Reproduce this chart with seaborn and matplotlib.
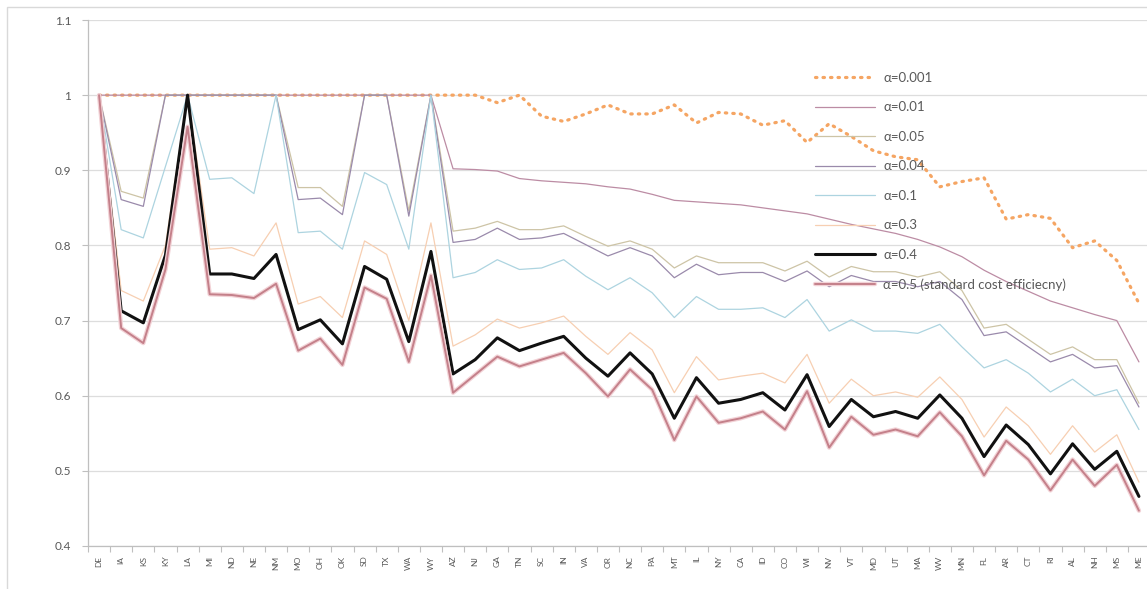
import numpy as np
import pandas as pd
import matplotlib
matplotlib.use("Agg")
import matplotlib.pyplot as plt
import matplotlib.patheffects as pe
from matplotlib.patches import Rectangle
import seaborn as sns

states = ["DE", "IA", "KS", "KY", "LA", "MI", "ND", "NE", "NM", "MO", "OH", "OK",
          "SD", "TX", "WA", "WY", "AZ", "NJ", "GA", "TN", "SC", "IN", "VA", "OR",
          "NC", "PA", "MT", "IL", "NY", "CA", "ID", "CO", "WI", "NV", "VT", "MD",
          "UT", "MA", "WV", "MN", "FL", "AR", "CT", "RI", "AL", "NH", "MS", "ME"]

a_0001 = [1.0, 1.0, 1.0, 1.0, 1.0, 1.0, 1.0, 1.0, 1.0, 1.0, 1.0, 1.0,
          1.0, 1.0, 1.0, 1.0, 1.0, 1.0, 0.990, 1.0, 0.972, 0.965, 0.975, 0.987,
          0.975, 0.975, 0.987, 0.963, 0.977, 0.975, 0.960, 0.966, 0.937, 0.962, 0.945, 0.926,
          0.918, 0.914, 0.878, 0.885, 0.890, 0.835, 0.841, 0.836, 0.797, 0.806, 0.780, 0.723]

a_001 = [1.0, 1.0, 1.0, 1.0, 1.0, 1.0, 1.0, 1.0, 1.0, 1.0, 1.0, 1.0,
         1.0, 1.0, 1.0, 1.0, 0.902, 0.901, 0.899, 0.889, 0.886, 0.884, 0.882, 0.878,
         0.875, 0.868, 0.860, 0.858, 0.856, 0.854, 0.850, 0.846, 0.842, 0.835, 0.828, 0.822,
         0.816, 0.808, 0.798, 0.785, 0.767, 0.752, 0.739, 0.726, 0.717, 0.708, 0.700, 0.645]

a_005 = [1.0, 0.872, 0.863, 1.0, 1.0, 1.0, 1.0, 1.0, 1.0, 0.877, 0.877, 0.852,
         1.0, 1.0, 0.846, 1.0, 0.819, 0.823, 0.832, 0.821, 0.821, 0.826, 0.812, 0.799,
         0.806, 0.795, 0.770, 0.786, 0.777, 0.777, 0.777, 0.766, 0.779, 0.758, 0.772, 0.765,
         0.765, 0.758, 0.765, 0.740, 0.690, 0.695, 0.675, 0.655, 0.665, 0.648, 0.648, 0.590]

a_004 = [1.0, 0.861, 0.852, 1.0, 1.0, 1.0, 1.0, 1.0, 1.0, 0.861, 0.863, 0.841,
         1.0, 1.0, 0.839, 1.0, 0.804, 0.808, 0.823, 0.808, 0.810, 0.816, 0.801, 0.786,
         0.797, 0.786, 0.757, 0.775, 0.761, 0.764, 0.764, 0.752, 0.766, 0.745, 0.760, 0.752,
         0.752, 0.745, 0.752, 0.728, 0.680, 0.685, 0.665, 0.645, 0.655, 0.637, 0.640, 0.585]

a_01 = [1.0, 0.821, 0.810, 0.905, 1.0, 0.888, 0.890, 0.869, 1.0, 0.817, 0.819, 0.795,
        0.897, 0.881, 0.795, 1.0, 0.757, 0.764, 0.781, 0.768, 0.770, 0.781, 0.759, 0.741,
        0.757, 0.737, 0.704, 0.732, 0.715, 0.715, 0.717, 0.704, 0.728, 0.686, 0.701, 0.686,
        0.686, 0.683, 0.695, 0.665, 0.637, 0.648, 0.630, 0.605, 0.622, 0.600, 0.608, 0.555]

a_03 = [1.0, 0.740, 0.726, 0.800, 1.0, 0.795, 0.797, 0.786, 0.830, 0.722, 0.732, 0.704,
        0.806, 0.788, 0.700, 0.830, 0.666, 0.681, 0.702, 0.690, 0.697, 0.706, 0.679, 0.655,
        0.684, 0.661, 0.604, 0.652, 0.621, 0.626, 0.630, 0.617, 0.655, 0.590, 0.622, 0.600,
        0.605, 0.598, 0.625, 0.595, 0.545, 0.585, 0.560, 0.522, 0.560, 0.525, 0.548, 0.485]

a_04 = [1.0, 0.713, 0.697, 0.787, 1.0, 0.762, 0.762, 0.756, 0.788, 0.688, 0.701, 0.669,
        0.772, 0.755, 0.672, 0.792, 0.629, 0.648, 0.677, 0.660, 0.670, 0.679, 0.650, 0.626,
        0.657, 0.629, 0.570, 0.624, 0.590, 0.595, 0.604, 0.581, 0.628, 0.559, 0.595, 0.572,
        0.579, 0.570, 0.601, 0.570, 0.519, 0.561, 0.535, 0.496, 0.536, 0.502, 0.526, 0.466]

a_05 = [1.0, 0.690, 0.670, 0.768, 0.958, 0.735, 0.734, 0.730, 0.749, 0.660, 0.676, 0.641,
        0.744, 0.729, 0.645, 0.760, 0.604, 0.628, 0.652, 0.639, 0.648, 0.657, 0.630, 0.599,
        0.635, 0.608, 0.541, 0.599, 0.564, 0.570, 0.579, 0.555, 0.606, 0.531, 0.572, 0.548,
        0.555, 0.546, 0.578, 0.546, 0.494, 0.540, 0.515, 0.474, 0.515, 0.480, 0.508, 0.447]

labels = ["α=0.001", "α=0.01", "α=0.05", "α=0.04", "α=0.1", "α=0.3", "α=0.4",
          "α=0.5 (standard cost efficiecny)"]
series = [a_0001, a_001, a_005, a_004, a_01, a_03, a_04, a_05]

styles = [
    dict(color="#F5A563", lw=2.3, linestyle=(0, (0.45, 1.9)), solid_capstyle="round",
         dash_capstyle="round"),
    dict(color="#BC8CA4", lw=0.9),
    dict(color="#CDC4A6", lw=0.9),
    dict(color="#9A8AAB", lw=0.9),
    dict(color="#ADD4E0", lw=0.9),
    dict(color="#F7CFB2", lw=0.9),
    dict(color="#111111", lw=2.2),
    dict(color="#C4808A", lw=1.4,
         path_effects=[pe.Stroke(linewidth=3.2, foreground="#F2D2D6"), pe.Normal()]),
]

x = np.arange(len(states))
frames = []
for lab, vals in zip(labels, series):
    frames.append(pd.DataFrame({"pos": x, "state": states, "value": vals, "series": lab}))
df = pd.concat(frames, ignore_index=True)

sns.set_theme(style="white")
plt.rcParams["font.family"] = ["Lato", "DejaVu Sans"]

W, H = 1147, 589
fig = plt.figure(figsize=(W / 100, H / 100), dpi=100)
# category step ~22.2 px, first state at x=98, last near the right edge
ax = fig.add_axes([88 / W, 43 / H, (1150 - 88) / W, 526 / H])

for lab, st in zip(labels, styles):
    sub = df[df["series"] == lab]
    sns.lineplot(data=sub, x="pos", y="value", ax=ax, label=lab, **st)

ax.set_xlim(-0.45, len(states) - 0.55)
ax.set_ylim(0.4, 1.1)
ax.set_yticks(np.arange(0.4, 1.101, 0.1))
ax.set_yticklabels(["0.4", "0.5", "0.6", "0.7", "0.8", "0.9", "1", "1.1"])
ax.set_xticks(x)
ax.set_xticklabels(states, rotation=90, fontsize=6.0, color="#595959")
ax.set_xlabel("")
ax.set_ylabel("")

ax.yaxis.grid(True, color="#DDDDDD", lw=0.9)
ax.xaxis.grid(False)
ax.set_axisbelow(True)
for side in ("top", "right"):
    ax.spines[side].set_visible(False)
for side in ("left", "bottom"):
    ax.spines[side].set_color("#BFBFBF")
    ax.spines[side].set_linewidth(0.9)

ax.tick_params(axis="y", which="major", length=4, width=0.8, color="#BFBFBF",
               labelsize=8.5, labelcolor="#595959", pad=8, left=True)
ax.tick_params(axis="x", which="major", length=0, pad=7)
ax.set_xticks(np.arange(-0.5, len(states), 1.0), minor=True)
ax.tick_params(axis="x", which="minor", length=4, width=0.8, color="#BFBFBF", bottom=True)

handles, hlabels = ax.get_legend_handles_labels()
leg = ax.legend(handles, hlabels, loc="upper left",
                bbox_to_anchor=(808 / W, 1 - 65 / H), bbox_transform=fig.transFigure,
                frameon=False, borderpad=0, fontsize=9.5, handlelength=4.6,
                handletextpad=0.6, labelspacing=1.33)
for t in leg.get_texts():
    t.set_color("#595959")

fig.patches.append(Rectangle((7 / W, -0.1), 1.2, (H - 7) / H + 0.1,
                             transform=fig.transFigure, fill=False,
                             edgecolor="#D9D9D9", lw=1.0, zorder=0))

fig.savefig("out.png", dpi=100, facecolor="white")
